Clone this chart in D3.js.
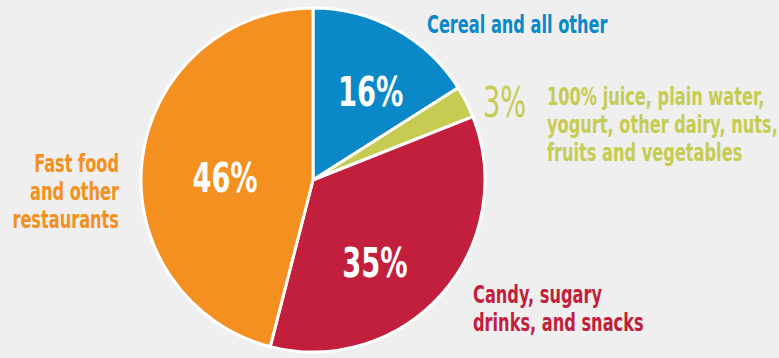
<!DOCTYPE html>
<html>
<head>
<meta charset="utf-8">
<script src="https://cdn.jsdelivr.net/npm/d3@7"></script>
<style>
  body { margin: 0; background: #efefef; }
  svg { display: block; }
  text { font-family: "DejaVu Sans Condensed", "Roboto", sans-serif; font-weight: bold; }
</style>
</head>
<body>
<script>
// Data
const categories = ["Cereal and all other", "100% juice, plain water, yogurt, other dairy, nuts, fruits and vegetables", "Candy, sugary drinks, and snacks", "Fast food and other restaurants"];
const shares = [16, 3, 35, 46];
const colors = ["#0a88c8", "#c6cc52", "#c11f3b", "#f39020"];
const labelLines = [
    ["Cereal and all other"],
    ["100% juice, plain water,", "yogurt, other dairy, nuts,", "fruits and vegetables"],
    ["Candy, sugary", "drinks, and snacks"],
    ["Fast food", "and other", "restaurants"]
];

const width = 779, height = 358;
const cx = 313, cy = 180, radius = 172;
const narrow = 0.75;   // squeeze to look like a condensed face

const svg = d3.select("body").append("svg")
    .attr("width", width)
    .attr("height", height);

const pie = d3.pie().sort(null).value(d => d);
const arcs = pie(shares);

const arc = d3.arc().innerRadius(0).outerRadius(radius);

const g = svg.append("g")
    .attr("class", "pie")
    .attr("transform", `translate(${cx},${cy})`);

// slices
g.selectAll("path")
    .data(arcs)
    .enter()
    .append("path")
    .attr("d", arc)
    .style("fill", (d, i) => colors[i])
    .style("stroke", "#fff")
    .style("stroke-width", 3)
    .style("stroke-linejoin", "round");

// percent labels inside slices (polar: angle in deg from top, distance)
const inside = [[33, 106], null, [143, 103], [272, 88]];
arcs.forEach((d, i) => {
    if (!inside[i]) return;
    const a = inside[i][0] * Math.PI / 180, r = inside[i][1];
    g.append("g")
        .attr("transform", `translate(${r * Math.sin(a)},${-r * Math.cos(a)}) scale(0.74,1)`)
        .append("text")
        .attr("dy", "0.36em")
        .attr("text-anchor", "middle")
        .attr("fill", "#fff")
        .style("font-size", "41px")
        .text(d.value + "%");
});

// outside labels
const outside = [
    { x: 427, y: 33, anchor: "start" },
    { x: 547, y: 105, anchor: "start" },
    { x: 473, y: 303, anchor: "start" },
    { x: 119, y: 172, anchor: "end" }
];
labelLines.forEach((lines, i) => {
    const t = svg.append("g")
        .attr("transform", `translate(${outside[i].x},${outside[i].y}) scale(${narrow},1)`)
        .append("text")
        .attr("fill", colors[i])
        .attr("text-anchor", outside[i].anchor)
        .style("font-size", "24px");
    lines.forEach((line, j) => {
        t.append("tspan")
            .attr("x", 0)
            .attr("y", j * 28)
            .text(line);
    });
});

// the small slice's percent sits outside
svg.append("g")
    .attr("transform", "translate(483,117) scale(0.72,1)")
    .append("text")
    .attr("fill", colors[1])
    .style("font-size", "42px")
    .style("font-weight", "normal")
    .text(shares[1] + "%");
</script>
</body>
</html>
